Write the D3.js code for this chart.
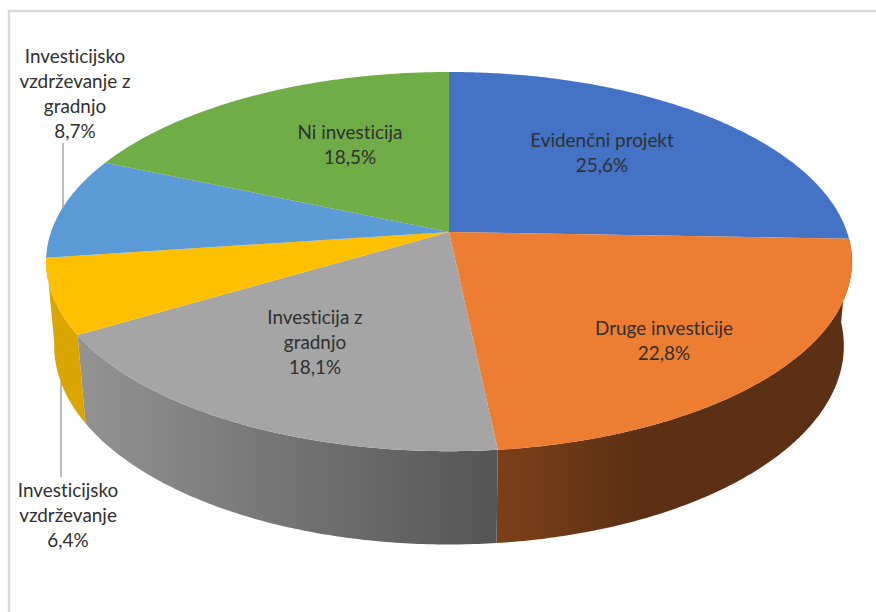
<!DOCTYPE html>
<html>
<head>
<meta charset="utf-8">
<script src="https://d3js.org/d3.v7.min.js"></script>
<style>
  html, body { margin: 0; padding: 0; background: #fff; }
  svg { display: block; }
  text { font-family: Lato, "Open Sans", sans-serif; font-size: 18.9px; fill: #303030; text-anchor: middle; font-variant-ligatures: none; }
</style>
</head>
<body>
<div id="my_dataviz"></div>
<script>
// values, clockwise from 12 o'clock
const categories = ["Evidenčni projekt", "Druge investicije", "Investicija z gradnjo",
  "Investicijsko vzdrževanje", "Investicijsko vzdrževanje z gradnjo", "Ni investicija"];
const values = [25.6, 22.8, 18.1, 6.4, 8.7, 18.5];
const valueLabels = ["25,6%", "22,8%", "18,1%", "6,4%", "8,7%", "18,5%"];
const labelLines = [
  ["Evidenčni projekt"],
  ["Druge investicije"],
  ["Investicija z", "gradnjo"],
  ["Investicijsko", "vzdrževanje"],
  ["Investicijsko", "vzdrževanje z", "gradnjo"],
  ["Ni investicija"]
];
const colors = ["#4472c4", "#ed7d31", "#a5a5a5", "#ffc000", "#5b9bd5", "#70ad47"];

const width = 876, height = 612;
const labelPos = [[602, 147], [664, 335], [315, 324], [68, 497], [75, 63], [350, 139]];
const lineHeight = 25;

const svg = d3.select("#my_dataviz").append("svg")
  .attr("width", width)
  .attr("height", height);

// frame of the pasted chart: only left and top edges are in the crop
svg.append("path")
  .attr("d", d3.line()([[9, height], [9, 11], [width, 11]]))
  .attr("fill", "none")
  .attr("stroke", "#d9d9d9")
  .attr("stroke-width", 2.5);

// tilted disc in perspective. t = 0 top face, t = 1 bottom face
const apex = [449, 232], ax = 398, ay = 185, k = 0.156, drop = 85, q = 0.02;
function project(angle, r, t) {
  const u = r * Math.sin(angle), v = -r * Math.cos(angle);
  const w = 1 - k * v + q * t;
  return [apex[0] + ax * u / w, apex[1] + (ay * v + drop * t) / w];
}

const slices = d3.pie().sort(null)(values);
const line = d3.line();

function arcPoints(a0, a1, t) {
  const n = Math.max(2, Math.ceil((a1 - a0) / 0.01));
  return d3.range(n + 1).map(i => project(a0 + (a1 - a0) * i / n, 1, t));
}

// gradients for the side wall
const defs = svg.append("defs");
function wallGradient(id, stops, x1, x2) {
  const g = defs.append("linearGradient")
    .attr("id", id)
    .attr("gradientUnits", "userSpaceOnUse")
    .attr("x1", x1).attr("x2", x2).attr("y1", 0).attr("y2", 0);
  stops.forEach((c, i) => g.append("stop")
    .attr("offset", i / (stops.length - 1))
    .attr("stop-color", c));
}
wallGradient("wall1", ["#7c4018", "#5c3014"], 497, 640);
wallGradient("wall2", ["#929292", "#555555"], 85, 497);
wallGradient("wall3", ["#dba500", "#dba500"], 46, 85);

// side wall, only the slices that face the viewer
const wallFill = [null, "url(#wall1)", "url(#wall2)", "url(#wall3)", null, null];
svg.append("g").selectAll("path")
  .data(slices.filter(d => wallFill[d.index]))
  .enter().append("path")
    .attr("d", d => {
      const top = arcPoints(d.startAngle, d.endAngle, 0);
      const bottom = arcPoints(d.startAngle, d.endAngle, 1).reverse();
      return line(top.concat(bottom)) + "Z";
    })
    .attr("fill", d => wallFill[d.index]);

// top face
svg.append("g").selectAll("path")
  .data(slices)
  .enter().append("path")
    .attr("d", d => line([project(0, 0, 0)].concat(arcPoints(d.startAngle, d.endAngle, 0))) + "Z")
    .attr("fill", d => colors[d.index]);

// leader lines of the two outside labels
svg.append("g").selectAll("line")
  .data([[63, 143, 208], [61, 382, 477]])
  .enter().append("line")
    .attr("x1", d => d[0]).attr("x2", d => d[0])
    .attr("y1", d => d[1]).attr("y2", d => d[2])
    .attr("stroke", "#a6a6a6")
    .attr("stroke-width", 1.5);

// labels
const labels = svg.append("g").selectAll("text")
  .data(categories)
  .enter().append("text")
    .attr("transform", (d, i) => `translate(${labelPos[i][0]}, ${labelPos[i][1]})`);

labels.selectAll("tspan")
  .data((d, i) => labelLines[i].concat(valueLabels[i]))
  .enter().append("tspan")
    .attr("x", 0)
    .attr("y", (d, i) => i * lineHeight)
    .text(d => d);
</script>
</body>
</html>
